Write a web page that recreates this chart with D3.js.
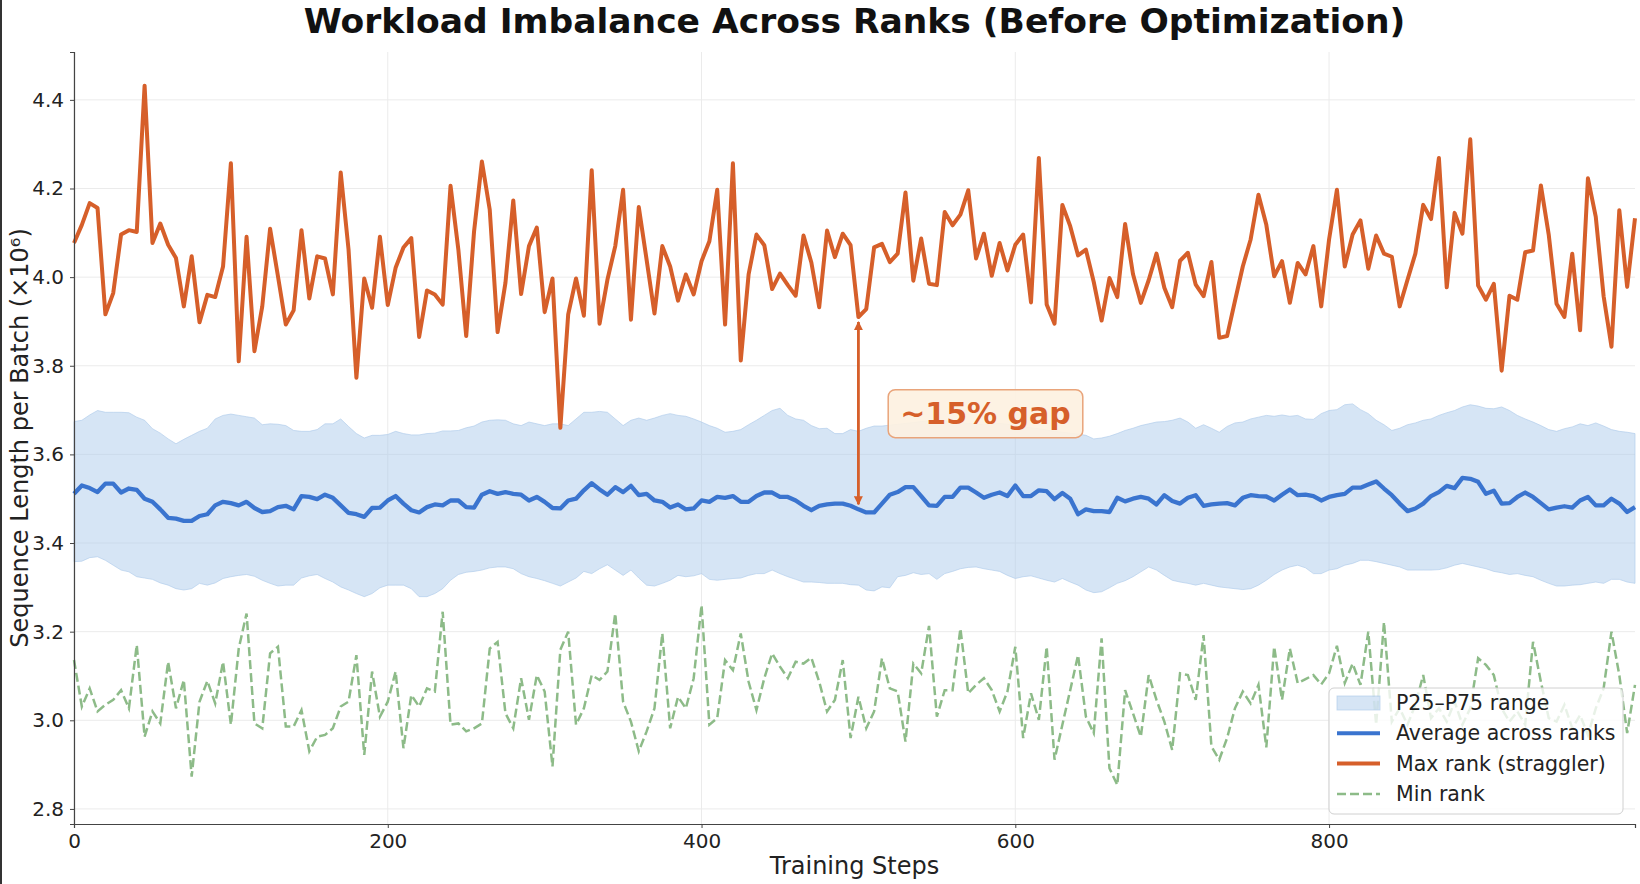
<!DOCTYPE html>
<meta charset="utf-8">
<script src="https://d3js.org/d3.v7.min.js"></script>
<style>
  body { margin: 0; background: #fff; }
  text { font-family: "DejaVu Sans", sans-serif; }
</style>
<div id="chart"></div>
<script>
// training steps (x), one sample every 5 steps
var steps = d3.range(0, 1000, 5);

// max rank (straggler), x10^6
var maxRank = [4.077,4.118,4.167,4.156,3.916,3.964,4.096,4.106,4.102,4.432,
4.077,4.121,4.073,4.043,3.934,4.047,3.898,3.960,3.955,4.024,
4.257,3.810,4.091,3.833,3.934,4.109,4.002,3.893,3.925,4.106,
3.952,4.047,4.042,3.961,4.236,4.062,3.773,3.997,3.931,4.091,
3.937,4.021,4.067,4.088,3.865,3.970,3.961,3.938,4.206,4.062,
3.867,4.103,4.261,4.152,3.876,3.987,4.173,3.962,4.070,4.112,
3.921,3.997,3.660,3.916,3.997,3.913,4.241,3.895,3.994,4.070,
4.197,3.904,4.158,4.039,3.918,4.070,4.024,3.947,4.006,3.961,
4.036,4.081,4.197,3.893,4.257,3.812,4.006,4.096,4.072,3.973,
4.008,3.982,3.958,4.094,4.033,3.932,4.105,4.045,4.098,4.072,
3.910,3.928,4.067,4.075,4.034,4.053,4.191,3.992,4.087,3.985,
3.982,4.147,4.117,4.141,4.196,4.042,4.098,4.003,4.077,4.015,
4.073,4.096,3.943,4.269,3.938,3.895,4.163,4.115,4.049,4.062,
3.989,3.902,3.998,3.955,4.120,4.007,3.942,3.993,4.053,3.976,
3.932,4.037,4.055,3.983,3.957,4.034,3.863,3.867,3.946,4.024,
4.085,4.186,4.118,4.002,4.036,3.942,4.032,4.006,4.070,3.934,
4.085,4.197,4.024,4.096,4.128,4.019,4.094,4.053,4.046,3.934,
3.994,4.053,4.163,4.131,4.269,3.977,4.145,4.098,4.311,3.981,
3.949,3.985,3.789,3.958,3.949,4.056,4.060,4.207,4.096,3.940,
3.910,4.053,3.880,4.223,4.136,3.957,3.843,4.151,3.978,4.133];

// average across ranks
var avgRank = [3.511,3.530,3.524,3.515,3.534,3.534,3.514,3.523,3.520,3.500,
3.493,3.476,3.457,3.455,3.450,3.450,3.461,3.465,3.485,3.493,
3.490,3.485,3.493,3.479,3.470,3.472,3.481,3.484,3.476,3.506,
3.504,3.499,3.509,3.502,3.485,3.468,3.465,3.459,3.479,3.480,
3.496,3.506,3.489,3.474,3.469,3.481,3.487,3.485,3.496,3.496,
3.481,3.480,3.509,3.517,3.511,3.515,3.511,3.509,3.496,3.504,
3.493,3.479,3.478,3.496,3.500,3.519,3.535,3.521,3.509,3.526,
3.515,3.529,3.508,3.511,3.496,3.493,3.480,3.487,3.476,3.478,
3.496,3.493,3.504,3.502,3.506,3.493,3.493,3.506,3.514,3.514,
3.504,3.504,3.496,3.484,3.474,3.484,3.487,3.489,3.489,3.484,
3.476,3.469,3.469,3.489,3.509,3.515,3.526,3.526,3.506,3.485,
3.484,3.504,3.504,3.525,3.525,3.514,3.502,3.509,3.514,3.506,
3.530,3.506,3.506,3.519,3.517,3.499,3.513,3.500,3.465,3.476,
3.472,3.472,3.470,3.502,3.494,3.500,3.504,3.500,3.487,3.508,
3.495,3.489,3.502,3.508,3.484,3.487,3.489,3.490,3.485,3.502,
3.508,3.506,3.505,3.496,3.509,3.521,3.508,3.509,3.506,3.496,
3.504,3.508,3.511,3.525,3.525,3.532,3.539,3.523,3.508,3.489,
3.472,3.478,3.489,3.506,3.515,3.529,3.524,3.547,3.545,3.538,
3.511,3.518,3.489,3.490,3.504,3.514,3.504,3.490,3.476,3.480,
3.483,3.480,3.496,3.504,3.485,3.485,3.500,3.489,3.470,3.481];

// min rank
var minRank = [3.136,3.031,3.072,3.020,3.035,3.046,3.068,3.027,3.170,2.963,
3.020,2.993,3.132,3.027,3.091,2.873,3.042,3.089,3.038,3.132,
2.990,3.162,3.241,2.993,2.982,3.151,3.166,2.986,2.986,3.023,
2.930,2.963,2.967,2.982,3.031,3.042,3.147,2.922,3.110,3.008,
3.042,3.110,2.937,3.057,3.031,3.072,3.065,3.245,2.990,2.993,
2.975,2.982,2.993,3.162,3.177,3.016,2.982,3.095,3.001,3.102,
3.065,2.896,3.159,3.200,2.990,3.027,3.102,3.091,3.110,3.241,
3.042,2.997,2.930,2.975,3.027,3.196,2.982,3.053,3.027,3.095,
3.260,2.990,3.005,3.136,3.113,3.196,3.087,3.023,3.095,3.151,
3.121,3.095,3.132,3.128,3.141,3.087,3.020,3.046,3.136,2.960,
3.053,2.982,3.020,3.140,3.072,3.065,2.952,3.128,3.106,3.213,
3.008,3.068,3.068,3.207,3.061,3.080,3.095,3.068,3.020,3.065,
3.166,2.960,3.061,3.001,3.166,2.911,2.990,3.068,3.147,3.008,
2.971,3.185,2.892,2.854,3.068,3.016,2.963,3.102,3.046,2.997,
2.933,3.106,3.102,3.046,3.192,2.941,2.911,2.960,3.027,3.065,
3.038,3.080,2.939,3.166,3.046,3.162,3.084,3.093,3.102,3.081,
3.106,3.168,3.084,3.128,3.080,3.200,2.990,3.222,2.997,3.027,
2.990,3.035,3.102,3.005,3.027,2.997,3.042,2.990,3.027,3.140,
3.125,3.102,3.027,2.997,3.020,2.990,3.177,3.087,3.005,2.997,
3.035,2.982,3.012,2.967,3.027,3.072,3.200,3.102,2.971,3.080];

// 75th percentile
var p75 = [3.674,3.677,3.689,3.699,3.695,3.695,3.695,3.694,3.684,3.677,
3.658,3.648,3.635,3.624,3.634,3.643,3.652,3.659,3.680,3.688,
3.691,3.688,3.685,3.682,3.667,3.669,3.668,3.665,3.654,3.652,
3.652,3.656,3.669,3.669,3.680,3.663,3.647,3.637,3.643,3.643,
3.645,3.652,3.647,3.644,3.644,3.647,3.648,3.653,3.653,3.654,
3.660,3.664,3.673,3.677,3.678,3.677,3.669,3.665,3.673,3.669,
3.665,3.669,3.669,3.665,3.680,3.695,3.695,3.697,3.695,3.680,
3.665,3.677,3.682,3.677,3.682,3.688,3.692,3.688,3.686,3.680,
3.673,3.665,3.659,3.650,3.652,3.656,3.667,3.677,3.688,3.699,
3.704,3.688,3.680,3.677,3.665,3.658,3.659,3.647,3.647,3.656,
3.652,3.659,3.664,3.664,3.666,3.668,3.670,3.672,3.674,3.676,
3.677,3.676,3.674,3.672,3.670,3.668,3.667,3.668,3.670,3.668,
3.665,3.662,3.660,3.658,3.655,3.652,3.650,3.648,3.646,3.643,
3.635,3.637,3.641,3.647,3.654,3.659,3.665,3.669,3.673,3.674,
3.677,3.682,3.673,3.659,3.667,3.659,3.650,3.663,3.671,3.673,
3.680,3.684,3.688,3.686,3.689,3.686,3.688,3.680,3.679,3.692,
3.699,3.701,3.712,3.714,3.701,3.692,3.677,3.667,3.654,3.659,
3.667,3.671,3.677,3.680,3.688,3.694,3.699,3.707,3.712,3.709,
3.704,3.703,3.707,3.699,3.688,3.680,3.673,3.665,3.656,3.652,
3.658,3.662,3.669,3.665,3.671,3.664,3.656,3.652,3.650,3.647];

// 25th percentile
var p25 = [3.358,3.359,3.367,3.369,3.361,3.350,3.339,3.335,3.324,3.321,
3.318,3.310,3.305,3.297,3.294,3.297,3.309,3.305,3.310,3.320,
3.324,3.327,3.329,3.325,3.316,3.309,3.303,3.305,3.305,3.321,
3.326,3.329,3.320,3.312,3.301,3.294,3.286,3.279,3.286,3.299,
3.305,3.305,3.305,3.297,3.279,3.279,3.286,3.297,3.316,3.329,
3.334,3.336,3.339,3.344,3.346,3.346,3.342,3.331,3.324,3.320,
3.315,3.309,3.303,3.312,3.321,3.336,3.331,3.342,3.351,3.339,
3.327,3.339,3.321,3.305,3.303,3.309,3.316,3.327,3.324,3.326,
3.331,3.318,3.316,3.318,3.320,3.321,3.327,3.331,3.331,3.339,
3.331,3.324,3.318,3.312,3.312,3.311,3.309,3.309,3.309,3.306,
3.305,3.294,3.292,3.301,3.299,3.324,3.327,3.333,3.329,3.331,
3.318,3.331,3.336,3.342,3.345,3.346,3.342,3.339,3.336,3.327,
3.320,3.324,3.326,3.321,3.316,3.312,3.320,3.312,3.305,3.294,
3.288,3.290,3.299,3.309,3.315,3.324,3.335,3.346,3.339,3.327,
3.316,3.312,3.309,3.305,3.309,3.305,3.301,3.299,3.297,3.295,
3.297,3.305,3.316,3.329,3.339,3.346,3.350,3.344,3.331,3.331,
3.339,3.342,3.350,3.354,3.361,3.361,3.358,3.354,3.350,3.346,
3.339,3.339,3.339,3.339,3.340,3.344,3.350,3.354,3.350,3.346,
3.342,3.336,3.333,3.329,3.331,3.327,3.324,3.316,3.309,3.303,
3.303,3.305,3.306,3.309,3.312,3.309,3.318,3.318,3.312,3.309];

var xTicks = [0, 200, 400, 600, 800];
var yTicks = [2.8, 3.0, 3.2, 3.4, 3.6, 3.8, 4.0, 4.2, 4.4];
var legendLabels = ["P25\u2013P75 range", "Average across ranks", "Max rank (straggler)", "Min rank"];
var gapStep = 500;
var gapLabel = "~15% gap";

var W = 1640, H = 884;
var margin = {top: 52, right: 5, bottom: 60, left: 74};

var colMax = "#d65f2a", colAvg = "#3a74cf", colBand = "#aac8ea", colMin = "#8dbb88";

var svg = d3.select("#chart").append("svg")
    .attr("width", W).attr("height", H);

var x = d3.scaleLinear().domain([0, 995]).range([margin.left, W - margin.right]);
var y = d3.scaleLinear().domain([2.766, 4.508]).range([H - margin.bottom, margin.top]);

var rows = steps.map(function (s, i) {
    return {s: s, mx: maxRank[i], av: avgRank[i], mn: minRank[i], lo: p25[i], hi: p75[i]};
});

// grid
svg.append("g").selectAll("line").data(yTicks).enter().append("line")
    .attr("x1", x(0)).attr("x2", x(995))
    .attr("y1", function (d) { return y(d); }).attr("y2", function (d) { return y(d); })
    .attr("stroke", "#ebebeb").attr("stroke-width", 1);
svg.append("g").selectAll("line").data(xTicks).enter().append("line")
    .attr("x1", function (d) { return x(d); }).attr("x2", function (d) { return x(d); })
    .attr("y1", y.range()[1]).attr("y2", y.range()[0])
    .attr("stroke", "#ebebeb").attr("stroke-width", 1);

// band
svg.append("path").datum(rows)
    .attr("d", d3.area().x(function (d) { return x(d.s); })
        .y0(function (d) { return y(d.lo); }).y1(function (d) { return y(d.hi); }))
    .attr("fill", colBand).attr("fill-opacity", 0.48)
    .attr("stroke", colBand).attr("stroke-opacity", 0.6).attr("stroke-width", 1);

function line(key) {
    return d3.line().x(function (d) { return x(d.s); }).y(function (d) { return y(d[key]); });
}

svg.append("path").datum(rows).attr("d", line("mn"))
    .attr("fill", "none").attr("stroke", colMin).attr("stroke-width", 2.5)
    .attr("stroke-dasharray", "9,4");

svg.append("path").datum(rows).attr("d", line("av"))
    .attr("fill", "none").attr("stroke", colAvg).attr("stroke-width", 4.3)
    .attr("stroke-linejoin", "round");

svg.append("path").datum(rows).attr("d", line("mx"))
    .attr("fill", "none").attr("stroke", colMax).attr("stroke-width", 4)
    .attr("stroke-linejoin", "round");

// gap annotation
var gi = steps.indexOf(gapStep);
var ax = x(gapStep), ayTop = y(maxRank[gi]) + 5, ayBot = y(avgRank[gi]) - 5;
var defs = svg.append("defs");
defs.append("marker").attr("id", "ah").attr("viewBox", "0 0 10 10")
    .attr("refX", 9).attr("refY", 5).attr("markerWidth", 3.2).attr("markerHeight", 3.2)
    .attr("orient", "auto-start-reverse")
    .append("path").attr("d", "M0,0 L10,5 L0,10 z").attr("fill", colMax);
svg.append("line")
    .attr("x1", ax).attr("x2", ax).attr("y1", ayBot).attr("y2", ayTop)
    .attr("stroke", colMax).attr("stroke-width", 2.8)
    .attr("marker-start", "url(#ah)").attr("marker-end", "url(#ah)");

var lx = x(581), ly = y(3.692);
var g = svg.append("g");
var lt = g.append("text").attr("x", lx).attr("y", ly).attr("dy", "0.35em")
    .attr("text-anchor", "middle").attr("font-size", 30).attr("font-weight", "bold")
    .attr("fill", colMax).text(gapLabel);
var bb = lt.node().getBBox();
g.insert("rect", "text")
    .attr("x", bb.x - 12).attr("y", ly - 24).attr("width", bb.width + 24).attr("height", 48)
    .attr("rx", 7).attr("fill", "#fdf1e1").attr("fill-opacity", 0.92)
    .attr("stroke", "#e9a47a").attr("stroke-width", 1.5);

// axes
var xAxis = svg.append("g").attr("transform", "translate(0," + y.range()[0] + ")")
    .call(d3.axisBottom(x).tickValues(xTicks).tickSize(4).tickPadding(6).tickFormat(d3.format("d")));
var yAxis = svg.append("g").attr("transform", "translate(" + margin.left + ",0)")
    .call(d3.axisLeft(y).tickValues(yTicks).tickSize(4).tickPadding(6).tickFormat(d3.format(".1f")));
[xAxis, yAxis].forEach(function (a) {
    a.select(".domain").attr("stroke", "#444").attr("stroke-width", 1.2);
    a.selectAll(".tick line").attr("stroke", "#444");
    a.selectAll("text").attr("font-size", 20).attr("fill", "#222")
        .attr("font-family", "DejaVu Sans, sans-serif");
});

// titles
svg.append("text").attr("x", (x(0) + x(995)) / 2).attr("y", 33)
    .attr("text-anchor", "middle").attr("font-size", 34.5).attr("font-weight", "bold")
    .attr("fill", "#111").text("Workload Imbalance Across Ranks (Before Optimization)");
svg.append("text").attr("x", (x(0) + x(995)) / 2).attr("y", 874)
    .attr("text-anchor", "middle").attr("font-size", 24).attr("fill", "#222")
    .text("Training Steps");
svg.append("text").attr("transform", "translate(28," + ((y.range()[0] + y.range()[1]) / 2) + ") rotate(-90)")
    .attr("text-anchor", "middle").attr("font-size", 24).attr("fill", "#222")
    .text("Sequence Length per Batch (\u00d710\u2076)");

// legend
var lg = svg.append("g").attr("transform", "translate(1329,688)");
lg.append("rect").attr("width", 294).attr("height", 126).attr("rx", 5)
    .attr("fill", "#fff").attr("fill-opacity", 0.8).attr("stroke", "#d0d0d0");
legendLabels.forEach(function (lab, i) {
    var cy = 15 + i * 30.3;
    if (i === 0) {
        lg.append("rect").attr("x", 8).attr("y", cy - 7).attr("width", 43).attr("height", 14)
            .attr("fill", colBand).attr("fill-opacity", 0.48)
            .attr("stroke", colBand).attr("stroke-opacity", 0.6);
    } else {
        var c = [null, colAvg, colMax, colMin][i];
        lg.append("line").attr("x1", 8).attr("x2", 51).attr("y1", cy).attr("y2", cy)
            .attr("stroke", c).attr("stroke-width", i === 3 ? 2.5 : 4)
            .attr("stroke-dasharray", i === 3 ? "9,4" : null);
    }
    lg.append("text").attr("x", 67).attr("y", cy).attr("dy", "0.35em")
        .attr("font-size", 20.5).attr("fill", "#222").text(lab);
});

// left border of the screenshot
svg.append("line").attr("x1", 1).attr("x2", 1).attr("y1", 0).attr("y2", H)
    .attr("stroke", "#333").attr("stroke-width", 2);
</script>
